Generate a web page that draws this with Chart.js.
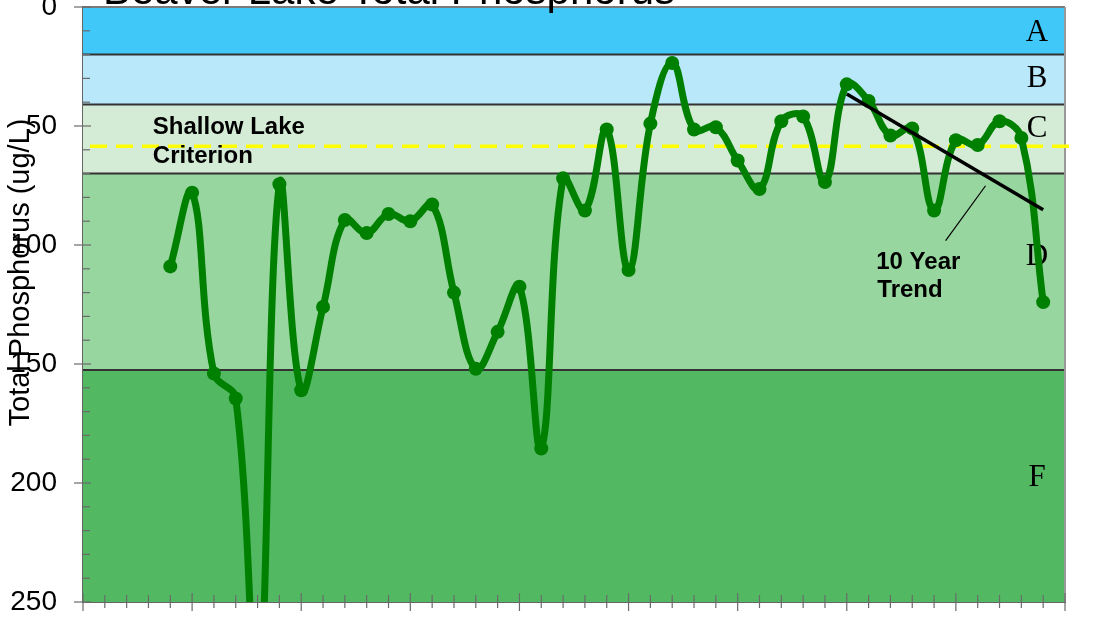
<!DOCTYPE html>
<html lang="en">
<head>
    <meta charset="UTF-8">
    <title>Beaver Lake Total Phosphorus</title>
    <script src="https://cdn.jsdelivr.net/npm/chart.js@4"></script>
    <style>
        html, body { margin: 0; padding: 0; background: #fff; }
        #wrap { width: 1110px; height: 625px; }
    </style>
</head>
<body>
    <div id="wrap"><canvas id="tpChart"></canvas></div>

    <script>
        // sampling positions on the (unlabelled) x axis, which runs 0..45
        const samplePos = [4, 5, 6, 7, 8, 9, 10, 11, 12, 13, 14, 15, 16, 17, 18, 19, 20, 21, 22, 23, 24,
                           25, 26, 27, 28, 29, 30, 31, 32, 33, 34, 35, 36, 37, 38, 39, 40, 41, 42, 43, 44];
        // total phosphorus, ug/L
        const phosphorus = [109, 78, 154, 164.5, 295, 74.5, 161, 126, 89.5, 95, 87, 90, 83, 120, 152, 136.5, 117.5, 185.5, 72, 85.5, 51.5,
                            110.5, 49, 23.5, 51.5, 50.5, 64.5, 76.5, 48, 46, 73.5, 32.5, 39.5, 54, 51, 85.5, 56, 58, 48, 55, 124];

        // 10 year trend line end points
        const trendPos = [35, 44];
        const trendVals = [36.6, 85.2];

        const criterion = 58.5;                       // shallow lake criterion
        const bandEdges = [0, 20, 41, 70, 152.5, 250]; // grade band limits
        const bandGrades = ['A', 'B', 'C', 'D', 'F'];
        const yTicks = [0, 50, 100, 150, 200, 250];

        const bandColors = ['#40c8f9', '#b9e8fa', '#d4ecd6', '#98d6a0', '#52b962'];
        const gradeLabelY = [11, 30, 51, 105, 198];

        function seg(ctx, x1, y1, x2, y2) {
            ctx.beginPath();
            ctx.moveTo(x1, y1);
            ctx.lineTo(x2, y2);
            ctx.stroke();
        }

        const decorations = {
            id: 'decorations',
            beforeDatasetsDraw(chart) {
                const { ctx, chartArea: a, scales: { x, y } } = chart;
                ctx.save();
                // grade bands
                bandGrades.forEach((g, i) => {
                    const top = y.getPixelForValue(bandEdges[i]);
                    const bot = y.getPixelForValue(bandEdges[i + 1]);
                    ctx.fillStyle = bandColors[i];
                    ctx.fillRect(a.left, top, a.right - a.left, bot - top);
                });
                ctx.strokeStyle = '#333';
                ctx.lineWidth = 2;
                for (let i = 1; i < bandEdges.length - 1; i++) {
                    const py = y.getPixelForValue(bandEdges[i]);
                    seg(ctx, a.left, py, a.right, py);
                }
                ctx.strokeStyle = '#7a7a7a';
                seg(ctx, a.left, a.top, a.right, a.top);
                ctx.strokeStyle = '#9a9a9a';
                seg(ctx, a.right, a.top, a.right, a.bottom);

                // grade letters
                ctx.fillStyle = '#000';
                ctx.font = '31px "Liberation Serif"';
                ctx.textAlign = 'center';
                ctx.textBaseline = 'middle';
                bandGrades.forEach((g, i) => {
                    ctx.fillText(g, a.right - 28, y.getPixelForValue(gradeLabelY[i]));
                });

                // criterion dashed line
                const cy = y.getPixelForValue(criterion);
                ctx.strokeStyle = '#ffff00';
                ctx.lineWidth = 3.5;
                ctx.setLineDash([17, 9]);
                seg(ctx, a.left + 7, cy, a.right + 10, cy);
                ctx.restore();
            },
            afterDatasetsDraw(chart) {
                const { ctx, scales: { x, y } } = chart;
                ctx.save();
                ctx.fillStyle = '#000';
                ctx.font = 'bold 24px "Liberation Sans"';
                ctx.textAlign = 'left';
                ctx.textBaseline = 'alphabetic';
                ctx.fillText('Shallow Lake', x.getPixelForValue(3.2), y.getPixelForValue(53.4));
                ctx.fillText('Criterion', x.getPixelForValue(3.2), y.getPixelForValue(65.4));
                ctx.fillText('10 Year', x.getPixelForValue(36.35), y.getPixelForValue(109.9));
                ctx.fillText('Trend', x.getPixelForValue(36.4), y.getPixelForValue(122));
                // leader from label to trend line
                ctx.strokeStyle = '#000';
                ctx.lineWidth = 1.2;
                seg(ctx, x.getPixelForValue(41.36), y.getPixelForValue(75.1), x.getPixelForValue(39.53), y.getPixelForValue(98.2));
                ctx.restore();
            },
            afterDraw(chart) {
                const { ctx, chartArea: a, scales: { x, y } } = chart;
                ctx.save();
                ctx.strokeStyle = '#6a6a6a';
                ctx.lineWidth = 1.2;
                // y tick marks
                y.ticks.forEach(t => {
                    const py = y.getPixelForValue(t.value);
                    if (yTicks.includes(t.value)) seg(ctx, a.left - 9, py, a.left + 8, py);
                    else seg(ctx, a.left, py, a.left + 7, py);
                });
                // x tick marks
                x.ticks.forEach(t => {
                    const px = x.getPixelForValue(t.value);
                    if (t.value % 5 === 0) seg(ctx, px, a.bottom - 9, px, a.bottom + 9);
                    else seg(ctx, px, a.bottom - 7, px, a.bottom + 6);
                });

                ctx.fillStyle = '#000';
                // chart title (runs off the top edge)
                ctx.font = '42px "Liberation Sans"';
                ctx.textAlign = 'left';
                ctx.textBaseline = 'alphabetic';
                ctx.fillText('Beaver Lake Total Phosphorus', 103, 4);

                // y axis title
                ctx.translate(29, 272.5);
                ctx.rotate(-Math.PI / 2);
                ctx.font = '29px "Liberation Sans"';
                ctx.textAlign = 'center';
                ctx.fillText('Total Phosphorus (ug/L)', 0, 0);
                ctx.restore();
            }
        };

        new Chart(document.getElementById('tpChart'), {
            type: 'line',
            data: {
                datasets: [
                    {
                        label: '10 Year Trend',
                        data: trendPos.map((p, i) => ({ x: p, y: trendVals[i] })),
                        borderColor: '#000',
                        borderWidth: 3.5,
                        pointRadius: 0,
                        tension: 0
                    },
                    {
                        label: 'Total Phosphorus',
                        data: samplePos.map((p, i) => ({ x: p, y: phosphorus[i] })),
                        borderColor: '#008000',
                        backgroundColor: '#008000',
                        borderWidth: 7,
                        pointRadius: 7,
                        pointBorderWidth: 0,
                        pointBackgroundColor: '#008000',
                        tension: 0.4
                    }
                ]
            },
            options: {
                responsive: true,
                maintainAspectRatio: false,
                animation: false,
                devicePixelRatio: 1,
                layout: { padding: { top: 6, right: 45, left: 0, bottom: 0 } },
                plugins: { legend: { display: false }, tooltip: { enabled: false } },
                scales: {
                    x: {
                        type: 'linear',
                        min: 0,
                        max: 45,
                        ticks: { display: false, stepSize: 1, autoSkip: false, maxTicksLimit: 100 },
                        grid: { display: false },
                        border: { display: true, color: '#666', width: 2 },
                        afterFit: s => { s.height = 23; s.paddingLeft = 0; s.paddingRight = 0; }
                    },
                    y: {
                        reverse: true,
                        min: 0,
                        max: 250,
                        ticks: {
                            stepSize: 10,
                            autoSkip: false,
                            maxTicksLimit: 100,
                            padding: 26,
                            color: '#000',
                            font: { family: 'Liberation Sans', size: 28 },
                            callback: v => (yTicks.includes(v) ? v : '')
                        },
                        grid: { display: false, drawTicks: false },
                        border: { display: true, color: '#666', width: 2 },
                        afterFit: s => { s.width = 83; s.paddingTop = 0; s.paddingBottom = 0; }
                    }
                }
            },
            plugins: [decorations]
        });
    </script>
</body>
</html>
